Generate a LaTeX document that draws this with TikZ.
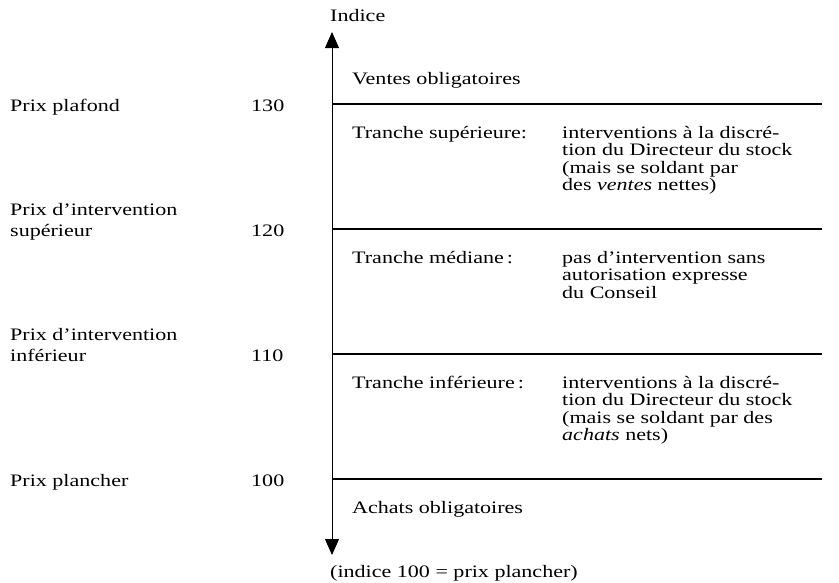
\documentclass[tikz,border=0pt]{standalone}
\usepackage{fontspec}
\setmainfont{Liberation Serif}[FakeStretch=1.26]
\usetikzlibrary{arrows.meta}
\begin{document}
\begin{tikzpicture}[x=1pt,y=-1pt,
  lbl/.style={anchor=base west, inner sep=0pt, font=\fontsize{17.5}{17.5}\selectfont},
  blk/.style={anchor=north west, inner sep=0pt, align=left, font=\fontsize{17.5}{17.5}\selectfont},
  blkl/.style={anchor=north west, inner sep=0pt, align=left, font=\fontsize{17.5}{21}\selectfont},
  level/.style={line width=1.3pt},
  axisline/.style={line width=1pt, {Triangle[length=16pt,width=14pt]}-{Triangle[length=16pt,width=14pt]}}]
\useasboundingbox (0,0) rectangle (839,582);
% axis
\coordinate (top) at (332,32);
\coordinate (bot) at (332,555);
\draw[axisline] (bot) -- (top);
\node[lbl] (indice) at (330,21) {Indice};
% level lines
\coordinate (l1a) at (332,104); \coordinate (l1b) at (822,104);
\coordinate (l2a) at (332,229); \coordinate (l2b) at (822,229);
\coordinate (l3a) at (332,354); \coordinate (l3b) at (822,354);
\coordinate (l4a) at (332,479); \coordinate (l4b) at (822,479);
\draw[level] (l1a) -- (l1b);
\draw[level] (l2a) -- (l2b);
\draw[level] (l3a) -- (l3b);
\draw[level] (l4a) -- (l4b);
% zone labels
\node[lbl] (ventes) at (352,84) {Ventes obligatoires};
\node[lbl] (tsup) at (352,138) {Tranche supérieure:};
\node[blk] (tsupt) at (562,126) {interventions à la discré-\\tion du Directeur du stock\\(mais se soldant par\\des \textit{ventes} nettes)};
\node[lbl] (tmed) at (352,263) {Tranche médiane\,:};
\node[blk] (tmedt) at (562,251) {pas d’intervention sans\\autorisation expresse\\du Conseil};
\node[lbl] (tinf) at (352,388) {Tranche inférieure\,:};
\node[blk] (tinft) at (562,376) {interventions à la discré-\\tion du Directeur du stock\\(mais se soldant par des\\\textit{achats} nets)};
\node[lbl] (achats) at (352,513) {Achats obligatoires};
\node[lbl] (note) at (330,577) {(indice 100 = prix plancher)};
% price labels
\node[lbl] (pplafond) at (10,111) {Prix plafond};
\node[lbl] (n130) at (251,111) {130};
\node[blkl] (pisup) at (10,203) {Prix d’intervention\\supérieur};
\node[lbl] (n120) at (251,236) {120};
\node[blkl] (piinf) at (10,328) {Prix d’intervention\\inférieur};
\node[lbl] (n110) at (251,361) {110};
\node[lbl] (pplancher) at (10,486) {Prix plancher};
\node[lbl] (n100) at (251,486) {100};
\end{tikzpicture}
\end{document}
